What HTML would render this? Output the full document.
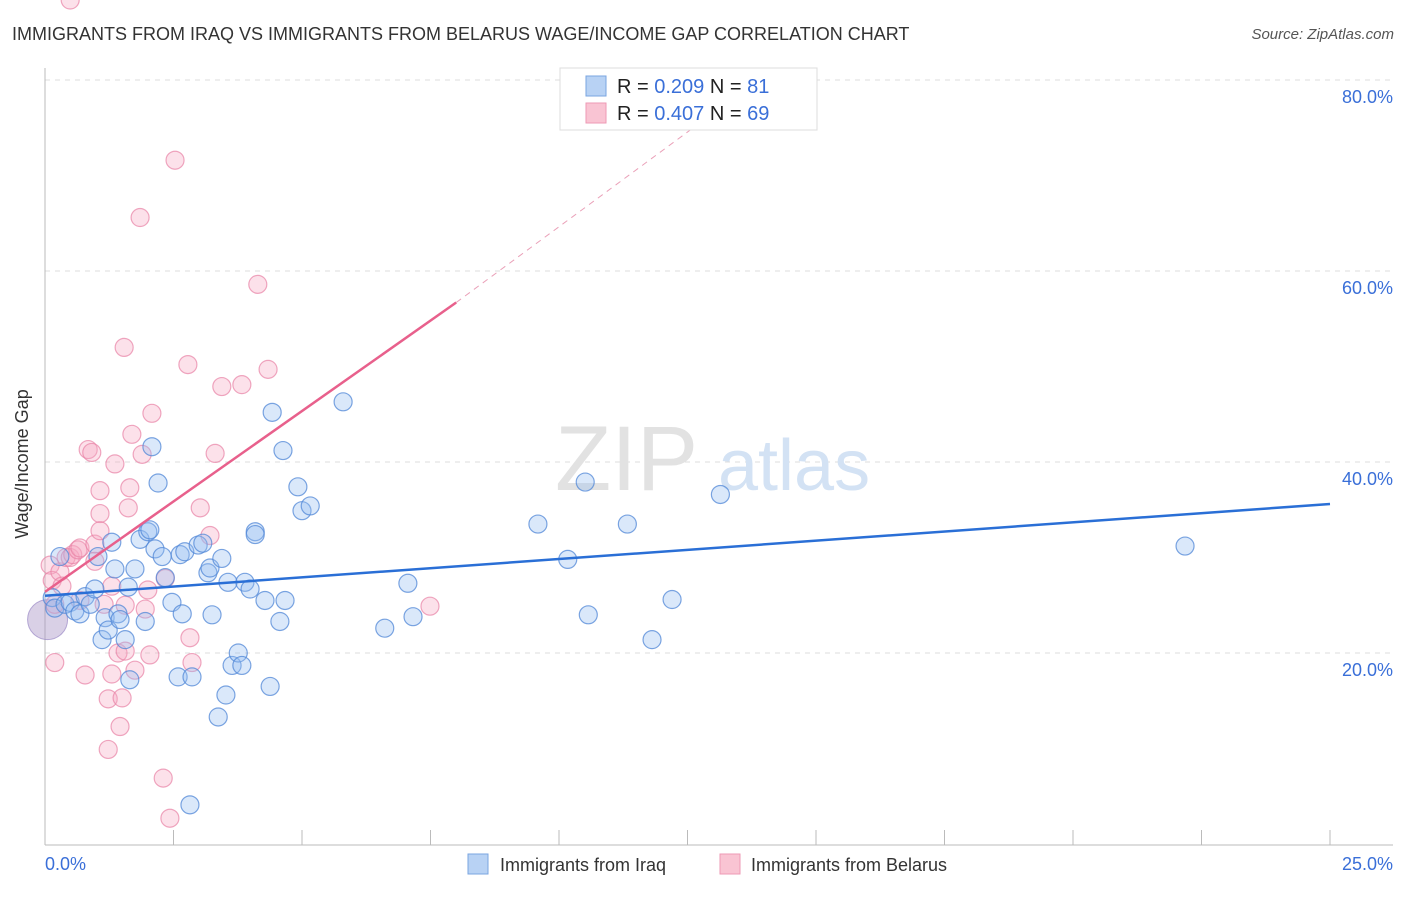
<!DOCTYPE html>
<html><head><meta charset="utf-8"><style>
body{margin:0;background:#fff;font-family:"Liberation Sans",sans-serif;}
svg text{font-family:"Liberation Sans",sans-serif;}
</style></head><body>
<svg width="1406" height="892" viewBox="0 0 1406 892">
<text x="12" y="40" font-size="18" fill="#333">IMMIGRANTS FROM IRAQ VS IMMIGRANTS FROM BELARUS WAGE/INCOME GAP CORRELATION CHART</text>
<text x="1394" y="39" font-size="15" fill="#555" text-anchor="end" font-style="italic">Source: ZipAtlas.com</text>
<g id="grid"></g>
<text x="555" y="490" font-size="92" fill="#e2e2e2" font-family="Liberation Serif">ZIP</text>
<text x="718" y="490" font-size="72" fill="#d3e2f4">atlas</text>
<g id="marks"></g>
<text x="20" y="456" font-size="18" fill="#333" transform="rotate(-90 28 456)" text-anchor="middle">Wage/Income Gap</text>
<text x="45" y="870" font-size="18" fill="#3a6fd8">0.0%</text>
<text x="1393" y="870" font-size="18" fill="#3a6fd8" text-anchor="end">25.0%</text>
<g>
<rect x="560" y="68" width="257" height="62" fill="#fff" stroke="#ddd"/>
<rect x="586" y="76" width="20" height="20" fill="#b8d2f4" stroke="#7aa5e0"/>
<rect x="586" y="103" width="20" height="20" fill="#f9c4d3" stroke="#ee9ab4"/>
<text x="617" y="93" font-size="20" fill="#222">R = <tspan fill="#3a6fd8">0.209</tspan>   N = <tspan fill="#3a6fd8"> 81</tspan></text>
<text x="617" y="120" font-size="20" fill="#222">R = <tspan fill="#3a6fd8">0.407</tspan>   N = <tspan fill="#3a6fd8">69</tspan></text>
</g>
<g>
<rect x="468" y="854" width="20" height="20" fill="#b8d2f4" stroke="#7aa5e0"/>
<text x="500" y="871" font-size="18" fill="#333">Immigrants from Iraq</text>
<rect x="720" y="854" width="20" height="20" fill="#f9c4d3" stroke="#ee9ab4"/>
<text x="751" y="871" font-size="18" fill="#333">Immigrants from Belarus</text>
</g>
</svg>
<script>
const yTicks=[20,40,60,80];
const xTicks=[0,2.5,5,7.5,10,12.5,15,17.5,20,22.5,25];
const iraqX=[0.14,0.19,0.29,0.39,0.49,0.58,0.68,0.78,0.88,0.97,1.03,1.11,1.17,1.23,1.30,1.36,1.42,1.46,1.56,1.62,1.65,1.75,1.85,1.95,2.00,2.04,2.08,2.14,2.20,2.28,2.34,2.47,2.59,2.63,2.67,2.72,2.86,2.98,3.07,3.17,3.21,3.25,3.37,3.44,3.52,3.56,3.64,3.76,3.83,3.89,3.99,4.09,4.09,4.28,4.38,4.42,4.57,4.63,4.67,4.92,5.00,5.16,5.80,6.61,7.06,7.16,9.59,10.17,10.51,10.57,11.33,11.81,12.20,13.14,22.18,2.82];
const iraqY=[25.8,24.7,30.1,25.1,25.3,24.4,24.1,25.9,25.1,26.7,30.1,21.4,23.7,22.4,31.6,28.8,24.1,23.5,21.4,26.9,17.2,28.8,31.9,23.3,32.7,32.9,41.6,30.9,37.8,30.1,27.9,25.3,17.5,30.3,24.1,30.6,17.5,31.3,31.5,28.4,28.9,24.0,13.3,29.9,15.6,27.4,18.7,20.0,18.7,27.4,26.7,32.7,32.4,25.5,16.5,45.2,23.3,41.2,25.5,37.4,34.9,35.4,46.3,22.6,27.3,23.8,33.5,29.8,37.9,24.0,33.5,21.4,25.6,36.6,31.2,4.1];
const belX=[0.10,0.14,0.19,0.19,0.29,0.33,0.41,0.49,0.54,0.64,0.68,0.78,0.84,0.91,0.97,0.97,1.07,1.07,1.07,1.15,1.23,1.23,1.30,1.30,1.36,1.42,1.46,1.50,1.54,1.56,1.62,1.65,1.69,1.75,1.85,1.89,1.95,2.00,2.04,2.08,2.30,2.34,2.43,2.53,2.78,2.86,3.02,3.21,3.31,3.44,3.83,4.14,4.34,7.49,2.82,1.56,0.68,0.49];
const belY=[29.2,27.6,19.0,25.1,28.5,27.0,30.0,30.0,30.3,30.8,31.0,17.7,41.3,41.0,31.4,29.6,37.0,34.6,32.8,25.1,15.2,9.9,27.0,17.8,39.8,20.0,12.3,15.3,52.0,20.2,35.2,37.3,42.9,18.2,65.6,40.8,24.6,26.6,19.8,45.1,6.9,27.8,2.7,71.6,50.2,19.0,35.2,32.3,40.9,47.9,48.1,58.6,49.7,24.9,21.6,25.0,25.5];
const blueLine=[[0,26.0],[25,35.6]];
const pinkSolid=[[0,26.4],[8.0,56.7]];
const pinkDash=[[8.0,56.7],[14.0,80.5]];
const X0=45,X1=1330,Y0=844,PY=9.55;
function sx(v){return X0+(v/25)*(X1-X0);}
function sy(v){return Y0-v*PY;}
const NS="http://www.w3.org/2000/svg";
function mk(t,a,p){const e=document.createElementNS(NS,t);for(const k in a)e.setAttribute(k,a[k]);p.appendChild(e);return e;}
const grid=document.getElementById('grid'),marks=document.getElementById('marks');
yTicks.forEach(t=>{
 const l=mk('line',{x1:X0,x2:1393,y1:sy(t),y2:sy(t),stroke:'#dcdcdc','stroke-dasharray':'5,5'},grid);
 
 
 const tx=mk('text',{x:1393,y:sy(t)+23,'font-size':18,fill:'#3a6fd8','text-anchor':'end'},grid);
 tx.textContent=t.toFixed(1)+'%';
 
 
});
const ax=mk('line',{x1:X0,x2:X0,y1:68,y2:845,stroke:'#bbb'},grid);


const bx=mk('line',{x1:X0,x2:1393,y1:845,y2:845,stroke:'#bbb'},grid);


xTicks.forEach(t=>{
 const l=mk('line',{x1:sx(t),x2:sx(t),y1:830,y2:845,stroke:'#bbb'},grid);
 
 
});
const big=mk('circle',{cx:sx(0.05),cy:sy(23.5),r:20,fill:'rgba(170,150,200,0.45)',stroke:'rgba(140,120,190,0.6)'},marks);


belX.forEach((x,i)=>{
 const c=mk('circle',{cx:sx(x),cy:sy(belY[i]),r:9,fill:'rgba(245,170,195,0.35)',stroke:'rgba(232,130,165,0.7)','stroke-width':1.2},marks);
 
 
});
iraqX.forEach((x,i)=>{
 const c=mk('circle',{cx:sx(x),cy:sy(iraqY[i]),r:9,fill:'rgba(150,190,240,0.35)',stroke:'rgba(80,135,215,0.75)','stroke-width':1.2},marks);
 
 
});
function line(pts,st,w,dash,name){
 const l=mk('line',{x1:sx(pts[0][0]),y1:sy(pts[0][1]),x2:sx(pts[1][0]),y2:sy(pts[1][1]),stroke:st,'stroke-width':w},marks);
 if(dash)l.setAttribute('stroke-dasharray',dash);
 
 
}
line(blueLine,'#2a6fd6',2.5,null,'iraq-trend-line');
line(pinkSolid,'#e8608c',2.5,null,'belarus-trend-line');
line(pinkDash,'#eaa0b8',1,'6,5','belarus-trend-extension');
</script>
</body></html>
